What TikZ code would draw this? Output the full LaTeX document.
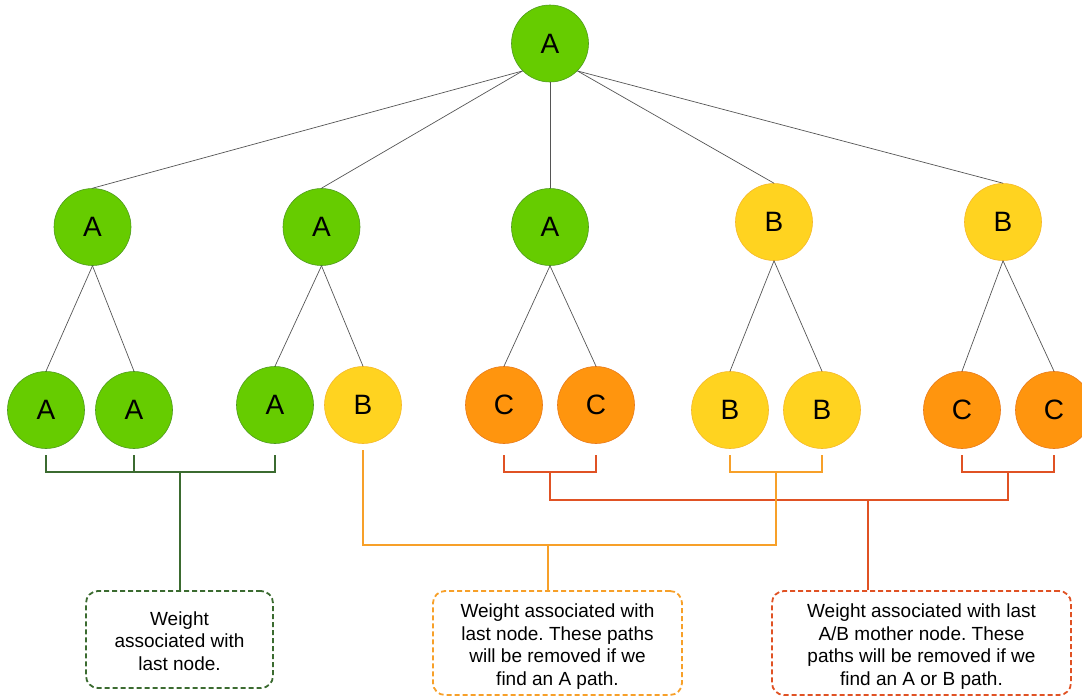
\documentclass[tikz,border=0pt]{standalone}
\usepackage{fontspec}
\setmainfont{Liberation Sans}
\usetikzlibrary{calc}
\frenchspacing
\definecolor{gA}{HTML}{66CC00}
\definecolor{gAd}{HTML}{4E9A1E}
\definecolor{yB}{HTML}{FFD320}
\definecolor{yBd}{HTML}{F5B82A}
\definecolor{oC}{HTML}{FF950E}
\definecolor{oCd}{HTML}{E87A1A}
\definecolor{lgreen}{HTML}{3B6B30}
\definecolor{lorange}{HTML}{F7A029}
\definecolor{lred}{HTML}{E05224}
\definecolor{edgegray}{HTML}{555555}
\tikzset{
  nd/.style={circle, minimum size=77pt, inner sep=0pt, line width=0.6pt,
    font=\fontsize{28}{30}\selectfont},
  na/.style={nd, fill=gA, draw=gAd},
  nb/.style={nd, fill=yB, draw=yBd},
  nc/.style={nd, fill=oC, draw=oCd},
  edge/.style={draw=edgegray, line width=0.7pt},
  brk/.style={line width=2pt},
  note/.style={rectangle, rounded corners=12pt, line width=1.8pt, dash pattern=on 5pt off 3pt,
    align=center, inner sep=0pt, font=\fontsize{19}{22.5}\selectfont},
}
\begin{document}
\begin{tikzpicture}[x=1pt, y=-1pt]
\useasboundingbox (0,0) rectangle (1082,697);
% nodes
\node[na] (r) at (550,43.5) {A};
\node[na] (a1) at (92.5,227) {A};
\node[na] (a2) at (321.5,227) {A};
\node[na] (a3) at (550,227) {A};
\node[nb] (b1) at (774,222) {B};
\node[nb] (b2) at (1003,222) {B};
\node[na] (l1) at (46,410) {A};
\node[na] (l2) at (134,410) {A};
\node[na] (l3) at (275,405) {A};
\node[nb] (l4) at (363,405) {B};
\node[nc] (l5) at (504,405) {C};
\node[nc] (l6) at (596,405) {C};
\node[nb] (l7) at (730,410) {B};
\node[nb] (l8) at (822,410) {B};
\node[nc] (l9) at (962,410) {C};
\node[nc] (l10) at (1054,410) {C};
% tree edges
\draw[edge] (r.south west) -- (a1.north);
\draw[edge] (r.south west) -- (a2.north);
\draw[edge] (r.south) -- (a3.north);
\draw[edge] (r.south east) -- (b1.north);
\draw[edge] (r.south east) -- (b2.north);
\draw[edge] (a1.south) -- (l1.north);
\draw[edge] (a1.south) -- (l2.north);
\draw[edge] (a2.south) -- (l3.north);
\draw[edge] (a2.south) -- (l4.north);
\draw[edge] (a3.south) -- (l5.north);
\draw[edge] (a3.south) -- (l6.north);
\draw[edge] (b1.south) -- (l7.north);
\draw[edge] (b1.south) -- (l8.north);
\draw[edge] (b2.south) -- (l9.north);
\draw[edge] (b2.south) -- (l10.north);
% notes
\node[note, draw=lgreen, minimum width=187pt, minimum height=97pt] (ng) at (179.5,639.5)
  {\rule{0pt}{17pt}Weight\\associated with\\last node.};
\node[note, draw=lorange, minimum width=249pt, minimum height=104pt] (no) at (557.5,643)
  {\rule{0pt}{21pt}Weight associated with\\last node. These paths\\will be removed if we\\find an A path.};
\node[note, draw=lred, minimum width=299pt, minimum height=104pt] (nr) at (921.5,643)
  {\rule{0pt}{21pt}Weight associated with last\\A/B mother node. These\\paths will be removed if we\\find an A or B path.};
% bracket levels
\coordinate (t1) at (0,455);
\coordinate (h1) at (0,472);
\coordinate (h2) at (0,500);
\coordinate (h3) at (0,545);
\coordinate (tb) at (0,450);
\coordinate (gs) at ($(ng.north west)!0.505!(ng.north east)$);
\coordinate (os) at ($(no.north west)!0.462!(no.north east)$);
\coordinate (rs) at ($(nr.north west)!0.321!(nr.north east)$);
% green bracket
\draw[brk, lgreen] (l1 |- t1) -- (l1 |- h1) -- (l3 |- h1) -- (l3 |- t1);
\draw[brk, lgreen] (l2 |- t1) -- (l2 |- h1);
\draw[brk, lgreen] (gs |- h1) -- (gs);
% red brackets
\coordinate (cm1) at ($(l5)!0.5!(l6)$);
\coordinate (cm2) at ($(l9)!0.5!(l10)$);
\draw[brk, lred] (l5 |- t1) -- (l5 |- h1) -- (l6 |- h1) -- (l6 |- t1);
\draw[brk, lred] (l9 |- t1) -- (l9 |- h1) -- (l10 |- h1) -- (l10 |- t1);
\draw[brk, lred] (cm1 |- h1) -- (cm1 |- h2) -- (cm2 |- h2) -- (cm2 |- h1);
\draw[brk, lred] (rs |- h2) -- (rs);
% orange brackets
\coordinate (bm) at ($(l7)!0.5!(l8)$);
\draw[brk, lorange] (l7 |- t1) -- (l7 |- h1) -- (l8 |- h1) -- (l8 |- t1);
\draw[brk, lorange] (bm |- h1) -- (bm |- h3) -- (l4 |- h3) -- (l4 |- tb);
\draw[brk, lorange] (os |- h3) -- (os);
\end{tikzpicture}
\end{document}
